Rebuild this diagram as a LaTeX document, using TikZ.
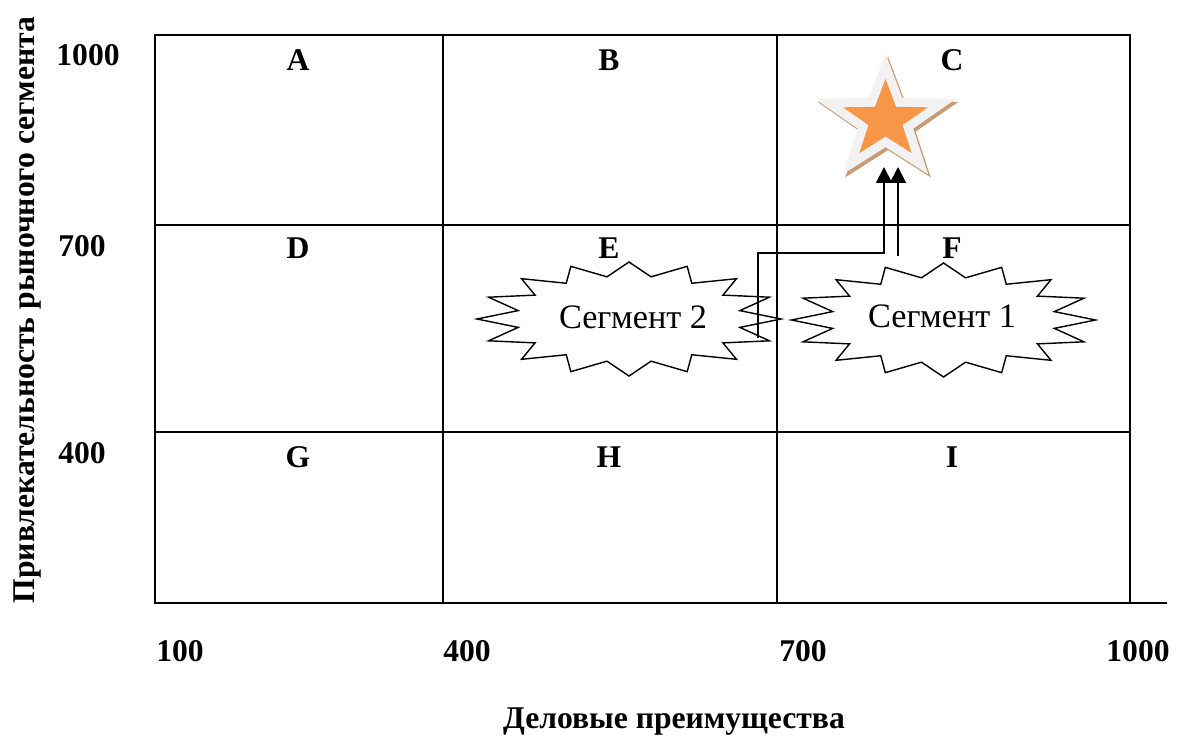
\documentclass[tikz,border=0pt]{standalone}
\usepackage{fontspec}
\setmainfont{Liberation Serif}
\usetikzlibrary{arrows.meta}
\definecolor{starorange}{HTML}{F79646}
\definecolor{starrim}{HTML}{F2F2F2}
\definecolor{starshade}{HTML}{C89C74}
\tikzset{
  grid line/.style={line width=1.15pt, line cap=rect},
  cell label/.style={font=\bfseries\fontsize{18}{20}\selectfont, inner sep=0pt},
  axis value/.style={font=\bfseries\fontsize{18}{20}\selectfont, inner sep=0pt},
  axis title/.style={font=\bfseries\fontsize{18}{20}\selectfont, inner sep=0pt},
  seg text/.style={font=\fontsize{19.5}{21}\selectfont, inner sep=0pt},
  burst/.style={line width=0.8pt, fill=white, line join=miter},
  move/.style={line width=1.1pt, -{Triangle[length=9pt,width=9pt]}},
  star rim/.style={line width=0.36cm, line join=miter, miter limit=10},
}
% explosion outline: 16 outer spikes on an ellipse
\newcommand{\burstpath}[2]{%
  plot[samples at={0,...,31}, variable=\k]
    ({#1 + ifthenelse(mod(\k,2)==0,152,113)*cos(90+\k*11.25)},
     {#2 - ifthenelse(mod(\k,2)==0,57,43)*sin(90+\k*11.25)}) -- cycle}
% five-pointed star, slightly wider than tall
\newcommand{\starpath}[2]{%
  plot[samples at={0,...,9}, variable=\k]
    ({#1 + ifthenelse(mod(\k,2)==0,1,0.4)*44.7*cos(90+\k*36)},
     {#2 - ifthenelse(mod(\k,2)==0,1,0.4)*41*sin(90+\k*36)}) -- cycle}
\begin{document}
\begin{tikzpicture}[x=0.02cm, y=-0.02cm]
\useasboundingbox (0,0) rectangle (1180,740);

% matrix grid
\draw[grid line] (155,35) rectangle (1130,603);
\draw[grid line] (155,225) -- (1130,225);
\draw[grid line] (155,432) -- (1130,432);
\draw[grid line] (443,35) -- (443,603);
\draw[grid line] (777,35) -- (777,603);
\draw[grid line] (1130,603) -- (1166,603);

% cell letters
\node[cell label] (A) at (298,60) {A};
\node[cell label] (B) at (609,60) {B};
\node[cell label] (C) at (952,60) {C};
\node[cell label] (D) at (298,248) {D};
\node[cell label] (E) at (609,248) {E};
\node[cell label] (F) at (952,248) {F};
\node[cell label] (G) at (298,457) {G};
\node[cell label] (H) at (609,457) {H};
\node[cell label] (I) at (952,457) {I};

% axis values
\node[axis value] (y1000) at (88,55) {1000};
\node[axis value] (y700) at (82,246) {700};
\node[axis value] (y400) at (82,453) {400};
\node[axis value] (x100) at (180,651) {100};
\node[axis value] (x400) at (467,651) {400};
\node[axis value] (x700) at (803,651) {700};
\node[axis value] (x1000) at (1138,651) {1000};

% axis titles
\node[axis title] (xtitle) at (674,722) {Деловые преимущества};
\node[axis title, rotate=90] (ytitle) at (28,310) {Привлекательность рыночного сегмента};

% target star: shadow, light rim, orange body
\draw[starshade, fill=starshade, star rim] \starpath{888}{123};
\draw[starrim, fill=starorange, star rim] \starpath{885.5}{120};
\fill[starorange] \starpath{885.5}{120};
\coordinate (star) at (885.5,120);

% segments
\draw[burst] \burstpath{629}{319};
\node[seg text] (seg2) at (633,317) {Сегмент 2};
\draw[burst] \burstpath{943.5}{320};
\node[seg text] (seg1) at (942,316) {Сегмент 1};

% movement towards the star
\coordinate (s2out) at (758,338);
\coordinate (bend) at (758,253);
\coordinate (s1out) at (898,256);
\coordinate (t2) at (884,167);
\coordinate (t1) at (898,167);
\draw[move] (s2out) -- (bend) -| (t2);
\draw[move] (s1out) -- (t1);
\end{tikzpicture}
\end{document}
